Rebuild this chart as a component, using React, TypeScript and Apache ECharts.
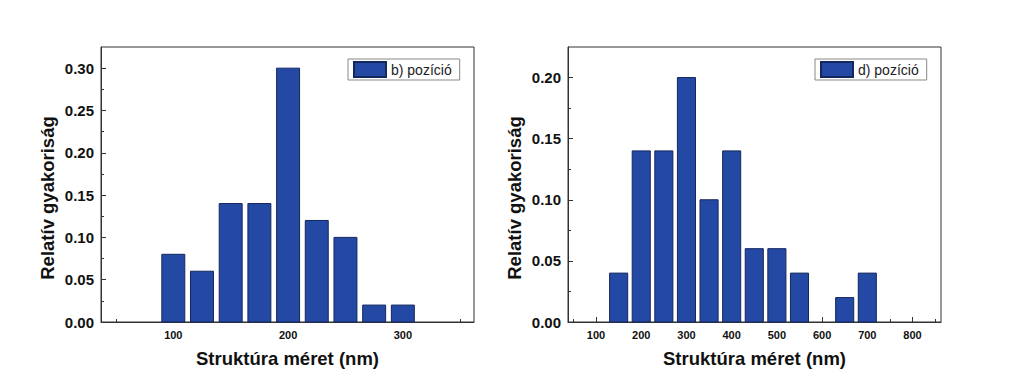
import React, { useEffect, useRef } from "react";
import * as echarts from "echarts";

// Left panel: b) pozíció
const binsB = [100, 125, 150, 175, 200, 225, 250, 275, 300];
const freqB = [0.08, 0.06, 0.14, 0.14, 0.3, 0.12, 0.1, 0.02, 0.02];
const xLabelsB = [100, 200, 300];
const xMinorB = [50, 150, 250, 350];
const yLabelsB = [0, 0.05, 0.1, 0.15, 0.2, 0.25, 0.3];
const yMinorB = [0.025, 0.075, 0.125, 0.175, 0.225, 0.275];

// Right panel: d) pozíció
const binsD = [150, 200, 250, 300, 350, 400, 450, 500, 550, 600, 650, 700];
const freqD = [0.04, 0.14, 0.14, 0.2, 0.1, 0.14, 0.06, 0.06, 0.04, 0, 0.02, 0.04];
const xLabelsD = [100, 200, 300, 400, 500, 600, 700, 800];
const xMinorD = [50, 150, 250, 350, 450, 550, 650, 750, 850];
const yLabelsD = [0, 0.05, 0.1, 0.15, 0.2];
const yMinorD = [0.025, 0.075, 0.125, 0.175];

const seriesNameB = "b) pozíció";
const seriesNameD = "d) pozíció";
const xTitle = "Struktúra méret (nm)";
const yTitle = "Relatív gyakoriság";

const BAR = "#2449a4";
const BAR_BORDER = "#14275e";
const FONT = "Liberation Sans, Arial, sans-serif";
const AXIS = "#333";

function barRender(w: number) {
  return (params: any, api: any) => {
    const x = api.value(0);
    const y = api.value(1);
    if (!y) return null;
    const p0 = api.coord([x - w / 2, y]);
    const p1 = api.coord([x + w / 2, 0]);
    return {
      type: "rect",
      shape: { x: p0[0], y: p0[1], width: p1[0] - p0[0], height: p1[1] - p0[1] },
      style: { fill: BAR, stroke: BAR_BORDER, lineWidth: 1 },
    };
  };
}

function xAxes(gridIndex: number, min: number, max: number, labels: number[], minor: number[]) {
  return [
    {
      type: "value",
      gridIndex,
      min,
      max,
      name: xTitle,
      nameLocation: "middle",
      nameGap: 27,
      nameTextStyle: { fontFamily: FONT, fontWeight: "bold", fontSize: 18.5, color: "#111" },
      axisLine: { show: true, onZero: false, lineStyle: { color: AXIS, width: 1 } },
      axisTick: { show: true, inside: true, length: 5, customValues: labels, lineStyle: { color: AXIS } },
      axisLabel: {
        show: true,
        customValues: labels,
        margin: 7,
        fontFamily: FONT,
        fontWeight: "bold",
        fontSize: 11,
        color: "#111",
      },
      splitLine: { show: false },
    },
    {
      type: "value",
      gridIndex,
      min,
      max,
      position: "bottom",
      axisLine: { show: false, onZero: false },
      axisTick: { show: true, inside: true, length: 3, customValues: minor, lineStyle: { color: AXIS } },
      axisLabel: { show: false },
      splitLine: { show: false },
    },
  ];
}

function yAxes(gridIndex: number, max: number, labels: number[], minor: number[]) {
  return [
    {
      type: "value",
      gridIndex,
      min: 0,
      max,
      axisLine: { show: true, onZero: false, lineStyle: { color: AXIS, width: 1 } },
      axisTick: { show: true, inside: true, length: 5, customValues: labels, lineStyle: { color: AXIS } },
      axisLabel: {
        show: true,
        customValues: labels,
        margin: 7,
        formatter: (v: number) => v.toFixed(2),
        fontFamily: FONT,
        fontWeight: "bold",
        fontSize: 15,
        color: "#111",
      },
      splitLine: { show: false },
    },
    {
      type: "value",
      gridIndex,
      min: 0,
      max,
      position: "left",
      axisLine: { show: false, onZero: false },
      axisTick: { show: true, inside: true, length: 3, customValues: minor, lineStyle: { color: AXIS } },
      axisLabel: { show: false },
      splitLine: { show: false },
    },
  ];
}

function legendFor(name: string, left: number) {
  return {
    data: [{ name, icon: "rect" }],
    left,
    top: 59,
    orient: "horizontal",
    itemWidth: 32,
    itemHeight: 15,
    itemGap: 5,
    padding: [2, 8, 2, 5],
    borderColor: "#888",
    borderWidth: 1,
    textStyle: { fontFamily: FONT, fontSize: 14, color: "#222" },
    selectedMode: false,
  };
}

export default function App() {
  const ref = useRef<HTMLDivElement>(null);
  useEffect(() => {
    if (!ref.current) return;
    const chart = echarts.init(ref.current, undefined, { renderer: "svg" });
    const option: any = {
      animation: false,
      backgroundColor: "#fff",
      grid: [
        { left: 101, top: 47, width: 373, height: 275, show: true, borderColor: AXIS, borderWidth: 1, backgroundColor: "transparent" },
        { left: 568, top: 47, width: 373, height: 275, show: true, borderColor: AXIS, borderWidth: 1, backgroundColor: "transparent" },
      ],
      legend: [legendFor(seriesNameB, 348), legendFor(seriesNameD, 815)],
      xAxis: [
        ...xAxes(0, 37, 362, xLabelsB, xMinorB),
        ...xAxes(1, 38, 863, xLabelsD, xMinorD),
      ],
      yAxis: [
        ...yAxes(0, 0.325, yLabelsB, yMinorB),
        ...yAxes(1, 0.225, yLabelsD, yMinorD),
      ],
      series: [
        {
          type: "custom",
          name: seriesNameB,
          xAxisIndex: 0,
          yAxisIndex: 0,
          itemStyle: { color: BAR, borderColor: BAR_BORDER, borderWidth: 1 },
          renderItem: barRender(20),
          encode: { x: 0, y: 1 },
          data: binsB.map((b, i) => [b, freqB[i]]),
        },
        {
          type: "custom",
          name: seriesNameD,
          xAxisIndex: 2,
          yAxisIndex: 2,
          itemStyle: { color: BAR, borderColor: BAR_BORDER, borderWidth: 1 },
          renderItem: barRender(40),
          encode: { x: 0, y: 1 },
          data: binsD.map((b, i) => [b, freqD[i]]),
        },
      ],
      graphic: [
        {
          type: "text",
          x: 47,
          y: 198,
          rotation: Math.PI / 2,
          style: {
            text: yTitle,
            fontFamily: FONT,
            fontWeight: "bold",
            fontSize: 18.5,
            fill: "#111",
            align: "center",
            verticalAlign: "middle",
          },
        },
        {
          type: "text",
          x: 514,
          y: 198,
          rotation: Math.PI / 2,
          style: {
            text: yTitle,
            fontFamily: FONT,
            fontWeight: "bold",
            fontSize: 18.5,
            fill: "#111",
            align: "center",
            verticalAlign: "middle",
          },
        },
      ],
    };
    chart.setOption(option);
    return () => chart.dispose();
  }, []);
  return (
    <div
      ref={ref}
      style={{ position: "fixed", left: 0, top: 0, width: 1023, height: 391, background: "#fff" }}
    />
  );
}
